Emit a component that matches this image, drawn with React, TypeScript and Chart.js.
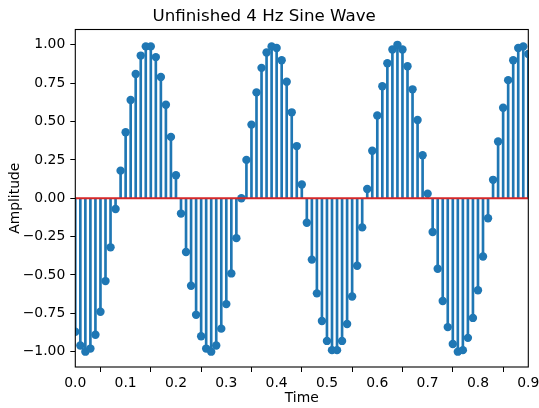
import React, { useEffect, useRef } from 'react';
import { Chart, registerables } from 'chart.js';

Chart.register(...registerables);

const TITLE = 'Unfinished 4 Hz Sine Wave';
const X_LABEL = 'Time';
const Y_LABEL = 'Amplitude';

const times = [
  0.00, 0.01, 0.02, 0.03, 0.04, 0.05, 0.06, 0.07, 0.08, 0.09,
  0.10, 0.11, 0.12, 0.13, 0.14, 0.15, 0.16, 0.17, 0.18, 0.19,
  0.20, 0.21, 0.22, 0.23, 0.24, 0.25, 0.26, 0.27, 0.28, 0.29,
  0.30, 0.31, 0.32, 0.33, 0.34, 0.35, 0.36, 0.37, 0.38, 0.39,
  0.40, 0.41, 0.42, 0.43, 0.44, 0.45, 0.46, 0.47, 0.48, 0.49,
  0.50, 0.51, 0.52, 0.53, 0.54, 0.55, 0.56, 0.57, 0.58, 0.59,
  0.60, 0.61, 0.62, 0.63, 0.64, 0.65, 0.66, 0.67, 0.68, 0.69,
  0.70, 0.71, 0.72, 0.73, 0.74, 0.75, 0.76, 0.77, 0.78, 0.79,
  0.80, 0.81, 0.82, 0.83, 0.84, 0.85, 0.86, 0.87, 0.88, 0.89,
  0.90,
];

const amplitudes = [
  -0.87, -0.96, -1.00, -0.98, -0.89, -0.74, -0.54, -0.32, -0.07, 0.18,
  0.43, 0.64, 0.81, 0.93, 0.99, 0.99, 0.92, 0.79, 0.61, 0.40,
  0.15, -0.10, -0.35, -0.57, -0.76, -0.90, -0.98, -1.00, -0.96, -0.85,
  -0.69, -0.49, -0.26, 0.00, 0.25, 0.48, 0.69, 0.85, 0.95, 0.99,
  0.98, 0.90, 0.76, 0.56, 0.34, 0.09, -0.16, -0.40, -0.62, -0.80,
  -0.93, -0.99, -0.99, -0.93, -0.82, -0.64, -0.44, -0.19, 0.06, 0.31,
  0.54, 0.73, 0.88, 0.97, 1.00, 0.97, 0.86, 0.71, 0.51, 0.28,
  0.03, -0.22, -0.46, -0.67, -0.84, -0.95, -1.00, -0.99, -0.91, -0.78,
  -0.60, -0.38, -0.13, 0.12, 0.37, 0.59, 0.77, 0.90, 0.98, 0.99,
  0.94,
];

const xTicks = [0.0, 0.1, 0.2, 0.3, 0.4, 0.5, 0.6, 0.7, 0.8, 0.9];
const yTicks = [-1.0, -0.75, -0.5, -0.25, 0.0, 0.25, 0.5, 0.75, 1.0];
const baselineX = [0.0, 0.9];
const X_MIN = 0.0;
const X_MAX = 0.9;
const Y_MIN = -1.1;
const Y_MAX = 1.1;

const BLUE = '#1f77b4';
const RED = '#d62728';
const FONT = "'DejaVu Sans', 'Liberation Sans', sans-serif";

const fmt = (v: number, d: number) => {
  const s = Math.abs(v).toFixed(d);
  return v < -1e-9 ? '\u2212' + s : s;
};

const framePlugin = {
  id: 'axesFrame',
  afterDatasetsDraw(chart: any) {
    const { ctx, chartArea: a } = chart;
    ctx.save();
    ctx.strokeStyle = '#000';
    ctx.lineWidth = 1.1;
    ctx.strokeRect(a.left, a.top, a.right - a.left, a.bottom - a.top);
    ctx.restore();
  },
};

export default function App() {
  const canvasRef = useRef<HTMLCanvasElement | null>(null);

  useEffect(() => {
    if (!canvasRef.current) return;
    const points = times.map((t, i) => ({ x: t, y: amplitudes[i] }));
    const chart = new Chart(canvasRef.current, {
      type: 'scatter',
      data: {
        datasets: [
          {
            type: 'line',
            data: baselineX.map((x) => ({ x, y: 0 })),
            borderColor: RED,
            borderWidth: 2,
            pointRadius: 0,
            order: 1,
            clip: 0,
          } as any,
          {
            type: 'scatter',
            data: points,
            pointRadius: 4.2,
            pointBackgroundColor: BLUE,
            pointBorderWidth: 0,
            order: 2,
            clip: 0,
          } as any,
          {
            type: 'bar',
            data: points,
            backgroundColor: BLUE,
            borderWidth: 0,
            barThickness: 2,
            order: 3,
            clip: 0,
          } as any,
        ],
      },
      options: {
        responsive: false,
        animation: false,
        devicePixelRatio: 1,
        events: [],
        layout: { padding: { left: 0, right: 10.7, top: 0, bottom: 0 } },
        plugins: {
          legend: { display: false },
          tooltip: { enabled: false },
          title: {
            display: true,
            text: TITLE,
            color: '#000',
            font: { family: FONT, size: 16.67, weight: 'normal', lineHeight: 1.2 },
            padding: { top: 6.3, bottom: 3.2 },
          },
        },
        scales: {
          x: {
            type: 'linear',
            min: X_MIN,
            max: X_MAX,
            offset: false,
            afterBuildTicks: (s: any) => {
              s.ticks = xTicks.map((v) => ({ value: v }));
            },
            afterFit: (s: any) => {
              s.height = 41;
              s.paddingLeft = 0;
              s.paddingRight = 0;
            },
            ticks: {
              color: '#000',
              font: { family: FONT, size: 13.9 },
              padding: 3,
              maxRotation: 0,
              autoSkip: false,
              callback: (v: any) => fmt(Number(v), 1),
            },
            grid: {
              display: true,
              drawOnChartArea: false,
              drawTicks: true,
              tickLength: 5,
              color: '#000',
              lineWidth: 1,
            },
            border: { display: false },
            title: {
              display: true,
              text: X_LABEL,
              color: '#000',
              font: { family: FONT, size: 13.9, lineHeight: 1.2 },
              padding: { top: 0, bottom: 1.2 },
            },
          },
          y: {
            type: 'linear',
            min: Y_MIN,
            max: Y_MAX,
            afterBuildTicks: (s: any) => {
              s.ticks = yTicks.map((v) => ({ value: v }));
            },
            afterFit: (s: any) => {
              s.width = 75.3;
              s.paddingTop = 0;
              s.paddingBottom = 0;
            },
            ticks: {
              color: '#000',
              font: { family: FONT, size: 13.9 },
              padding: 5,
              autoSkip: false,
              callback: (v: any) => fmt(Number(v), 2),
            },
            grid: {
              display: true,
              drawOnChartArea: false,
              drawTicks: true,
              tickLength: 5,
              color: '#000',
              lineWidth: 1,
            },
            border: { display: false },
            title: {
              display: true,
              text: Y_LABEL,
              color: '#000',
              font: { family: FONT, size: 13.9, lineHeight: 1.2 },
              padding: { top: 6.7, bottom: 0 },
            },
          },
        },
      },
      plugins: [framePlugin],
    } as any);
    return () => chart.destroy();
  }, []);

  return (
    <div style={{ position: 'fixed', left: 0, top: 0, width: 539, height: 408, background: '#fff' }}>
      <canvas ref={canvasRef} width={539} height={408} style={{ display: 'block' }} />
    </div>
  );
}
